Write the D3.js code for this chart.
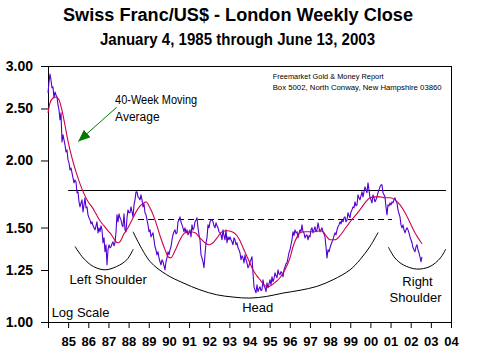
<!DOCTYPE html>
<html><head><meta charset="utf-8">
<script src="https://cdn.jsdelivr.net/npm/d3@7"></script>
<style>
html,body{margin:0;padding:0;background:#fff;}
svg{display:block;font-family:"Liberation Sans",Arial,sans-serif;}
</style></head>
<body>
<svg id="chart" width="477" height="360"></svg>
<script>
// ---------------- DATA ----------------
const titleText = "Swiss Franc/US$ - London Weekly Close";
const subtitleText = "January 4, 1985 through June 13, 2003";
const sourceLines = ["Freemarket Gold & Money Report", "Box 5002, North Conway, New Hampshire 03860"];

// CHF per US$, weekly close (sampled), first to last observation
const closeStart = 1985.0, closeEnd = 2003.56;
const closeValues = [
2.672,2.801,2.898,2.825,2.730,2.742,2.615,2.683,2.649,2.627,2.538,2.484,2.380,2.453,2.166,2.232,2.184,2.138,2.075,2.093,
2.005,1.979,1.921,1.937,1.896,1.856,1.817,1.840,1.825,1.741,1.748,1.675,1.639,1.667,1.689,1.604,1.653,1.704,1.632,1.639,
1.584,1.564,1.550,1.524,1.537,1.511,1.498,1.485,1.511,1.537,1.466,1.498,1.473,1.511,1.485,1.405,1.435,1.352,1.393,1.278,
1.363,1.393,1.375,1.381,1.399,1.411,1.387,1.405,1.473,1.584,1.537,1.591,1.564,1.550,1.517,1.505,1.591,1.485,1.473,1.564,
1.618,1.598,1.598,1.639,1.604,1.570,1.653,1.689,1.748,1.748,1.711,1.704,1.689,1.726,1.689,1.639,1.660,1.598,1.584,1.550,
1.517,1.473,1.485,1.441,1.454,1.466,1.423,1.381,1.363,1.334,1.352,1.317,1.295,1.278,1.306,1.295,1.273,1.251,1.295,1.317,
1.352,1.334,1.363,1.381,1.423,1.454,1.473,1.485,1.460,1.466,1.537,1.550,1.570,1.537,1.517,1.498,1.473,1.498,1.466,1.485,
1.454,1.466,1.485,1.441,1.517,1.485,1.498,1.537,1.550,1.564,1.498,1.454,1.423,1.334,1.317,1.295,1.262,1.334,1.405,1.435,
1.517,1.498,1.537,1.550,1.550,1.537,1.511,1.498,1.531,1.511,1.498,1.473,1.466,1.454,1.423,1.485,1.448,1.423,1.485,1.405,
1.441,1.423,1.441,1.423,1.411,1.393,1.435,1.423,1.393,1.405,1.375,1.363,1.346,1.306,1.329,1.317,1.289,1.334,1.306,1.289,
1.262,1.273,1.295,1.306,1.323,1.235,1.163,1.148,1.134,1.173,1.139,1.153,1.163,1.144,1.148,1.199,1.168,1.158,1.139,1.183,
1.158,1.178,1.199,1.173,1.214,1.189,1.204,1.235,1.219,1.209,1.251,1.230,1.225,1.241,1.235,1.214,1.251,1.267,1.284,1.289,
1.317,1.346,1.363,1.393,1.423,1.473,1.448,1.485,1.466,1.473,1.435,1.466,1.485,1.473,1.517,1.473,1.466,1.435,1.448,1.454,
1.423,1.448,1.441,1.485,1.498,1.466,1.485,1.505,1.473,1.485,1.531,1.498,1.473,1.485,1.498,1.473,1.460,1.441,1.381,1.317,
1.363,1.352,1.375,1.393,1.411,1.423,1.448,1.466,1.454,1.485,1.505,1.517,1.537,1.524,1.550,1.537,1.564,1.570,1.537,1.550,
1.598,1.577,1.564,1.604,1.618,1.639,1.632,1.675,1.646,1.653,1.726,1.704,1.689,1.718,1.748,1.711,1.748,1.786,1.763,1.741,
1.817,1.763,1.704,1.689,1.667,1.726,1.704,1.675,1.689,1.711,1.741,1.763,1.786,1.801,1.801,1.741,1.726,1.711,1.639,1.584,
1.653,1.646,1.667,1.653,1.675,1.667,1.689,1.704,1.682,1.667,1.618,1.591,1.570,1.517,1.498,1.517,1.485,1.466,1.485,1.498,
1.485,1.466,1.441,1.423,1.405,1.375,1.363,1.352,1.381,1.393,1.363,1.346,1.323,1.295,1.323
];

// 40-week moving average
const maDates = [1985.00,1985.10,1985.25,1985.40,1985.55,1985.69,1985.84,1985.99,1986.19,1986.39,1986.59,1986.79,1986.99,
1987.18,1987.38,1987.58,1987.78,1987.98,1988.18,1988.37,1988.47,1988.57,1988.77,1988.97,1989.17,1989.37,1989.57,1989.76,
1989.86,1990.06,1990.31,1990.56,1990.81,1990.96,1991.10,1991.30,1991.55,1991.80,1992.05,1992.30,1992.54,1992.79,1992.99,
1993.19,1993.39,1993.64,1993.88,1994.13,1994.38,1994.53,1994.68,1994.88,1995.02,1995.17,1995.37,1995.52,1995.72,1995.92,
1996.12,1996.32,1996.51,1996.76,1997.01,1997.16,1997.36,1997.51,1997.75,1998.00,1998.25,1998.50,1998.65,1998.80,1998.99,
1999.24,1999.49,1999.74,1999.99,2000.24,2000.48,2000.73,2000.98,2001.23,2001.48,2001.72,2001.97,2002.22,2002.47,2002.72,
2002.97,2003.21,2003.46,2003.56];
const maValues = [2.453,2.560,2.615,2.627,2.593,2.484,2.329,2.175,2.022,1.904,1.809,1.733,1.675,
1.639,1.591,1.544,1.511,1.479,1.448,1.411,1.405,1.411,1.460,1.498,1.550,1.604,1.646,1.667,
1.675,1.632,1.550,1.448,1.363,1.323,1.317,1.357,1.423,1.466,1.473,1.466,1.435,1.405,1.393,
1.405,1.435,1.473,1.479,1.473,1.448,1.417,1.375,1.323,1.289,1.251,1.219,1.199,1.173,1.163,
1.173,1.189,1.209,1.251,1.317,1.381,1.441,1.466,1.473,1.473,1.473,1.479,1.473,1.448,1.423,
1.423,1.448,1.492,1.537,1.577,1.618,1.667,1.704,1.711,1.711,1.704,1.704,1.689,1.653,1.598,
1.531,1.466,1.417,1.399];

// y axis ticks (log scale) and x axis years
const yTicks = [1.00, 1.25, 1.50, 2.00, 2.50, 3.00];
const xTickYears = d3.range(1985, 2006);

// reference levels
const resistanceLevel = 1.76, resistanceFrom = 1986.0, resistanceTo = 2004.75;
const necklineLevel = 1.555, necklineFrom = 1989.47, necklineTo = 2002.07;

// head-and-shoulders arcs (year, value)
const leftShoulderArc = [[1986.34,1.383],[1986.75,1.316],[1987.25,1.269],[1987.83,1.251],[1988.41,1.269],[1988.91,1.306],[1989.23,1.367]];
const headArc = [[1989.22,1.473],[1990.06,1.297],[1990.89,1.225],[1991.70,1.183],[1992.54,1.148],[1993.37,1.124],[1994.18,1.113],
 [1995.02,1.108],[1995.85,1.116],[1996.66,1.132],[1997.51,1.146],[1998.34,1.165],[1999.15,1.199],[1999.99,1.251],[2000.48,1.306],
 [2000.98,1.383],[2001.38,1.468]];
const rightShoulderArc = [[2001.89,1.379],[2002.22,1.316],[2002.63,1.278],[2003.30,1.255],[2003.96,1.269],[2004.47,1.316],[2004.74,1.367]];

// annotations: [text, year, value, anchor]
const annotations = [
  ["Left Shoulder", 1987.99, 1.178, "middle"],
  ["Head", 1995.41, 1.044, "middle"],
  ["Right", 2003.34, 1.168, "middle"],
  ["Shoulder", 2003.24, 1.088, "middle"],
  ["Log Scale", 1985.18, 1.020, "start"]
];
const maLabel = ["40-Week Moving", "Average"];
const maLabelPos = [1988.33, 2.549, 2.365];
const arrowFrom = [1988.41, 2.513], arrowTo = [1986.50, 2.170];
const sourcePos = [1996.15, 2.837, 2.712];

// ---------------- DRAW ----------------
const svg = d3.select("#chart");
svg.append("rect").attr("width", 477).attr("height", 360).attr("fill", "#fff");

const x = d3.scaleLinear().domain([1985, 2005]).range([48, 451]);
const y = d3.scaleLog().domain([1, 3]).range([322, 66]);

// titles
svg.append("text").attr("x", 238).attr("y", 20.5).attr("text-anchor", "middle")
  .attr("font-size", 18).attr("font-weight", "bold").attr("textLength", 350).attr("lengthAdjust", "spacingAndGlyphs")
  .text(titleText);
svg.append("text").attr("x", 237.5).attr("y", 45).attr("text-anchor", "middle")
  .attr("font-size", 16).attr("font-weight", "bold").attr("textLength", 275).attr("lengthAdjust", "spacingAndGlyphs")
  .text(subtitleText);

// frame
svg.append("rect")
  .attr("x", x(1985) + 0.5).attr("y", y(3) + 0.5)
  .attr("width", x(2005) - x(1985)).attr("height", y(1) - y(3))
  .attr("fill", "none").attr("stroke", "#000").attr("stroke-width", 1);

// axes
const yAxis = svg.append("g").attr("transform", `translate(${x(1985)},0)`)
  .call(d3.axisLeft(y).tickValues(yTicks).tickFormat(d3.format(".2f")).tickSize(7).tickSizeOuter(0).tickPadding(8));
yAxis.selectAll("text").attr("font-size", 14).attr("font-weight", "bold").attr("font-family", "Liberation Sans, Arial, sans-serif").attr("fill", "#000");
yAxis.selectAll("line,path").attr("stroke", "#000");

const xAxis = svg.append("g").attr("transform", `translate(0,${y(1)})`)
  .call(d3.axisBottom(x).tickValues(xTickYears).tickSize(6).tickSizeOuter(0).tickPadding(9)
    .tickFormat(d => d === 1985 ? "" : String(d - 1).slice(2)));
xAxis.selectAll("text").attr("font-size", 13).attr("font-weight", "bold").attr("font-family", "Liberation Sans, Arial, sans-serif").attr("fill", "#000");
xAxis.selectAll("line,path").attr("stroke", "#000");

// reference lines
svg.append("line")
  .attr("x1", x(resistanceFrom)).attr("x2", x(resistanceTo))
  .attr("y1", Math.round(y(resistanceLevel)) + 0.5).attr("y2", Math.round(y(resistanceLevel)) + 0.5)
  .attr("stroke", "#000").attr("stroke-width", 1);
svg.append("line")
  .attr("x1", x(necklineFrom)).attr("x2", x(necklineTo))
  .attr("y1", Math.round(y(necklineLevel)) + 0.5).attr("y2", Math.round(y(necklineLevel)) + 0.5)
  .attr("stroke", "#000").attr("stroke-width", 1).attr("stroke-dasharray", "6,4");

// series
const n = closeValues.length;
const closeData = closeValues.map((v, i) => [closeStart + i * (closeEnd - closeStart) / (n - 1), v]);
const line = d3.line().x(d => x(d[0])).y(d => y(d[1]));
svg.append("path").datum(closeData).attr("d", line)
  .attr("fill", "none").attr("stroke", "#5000d0").attr("stroke-width", 1.1).attr("stroke-linejoin", "round");

const maData = maDates.map((d, i) => [d, maValues[i]]);
svg.append("path").datum(maData).attr("d", line.curve(d3.curveMonotoneX))
  .attr("fill", "none").attr("stroke", "#d0004a").attr("stroke-width", 1.1);

// arcs
const arcLine = d3.line().x(d => x(d[0])).y(d => y(d[1])).curve(d3.curveCatmullRom);
[leftShoulderArc, headArc, rightShoulderArc].forEach(a => {
  svg.append("path").datum(a).attr("d", arcLine).attr("fill", "none").attr("stroke", "#000").attr("stroke-width", 1);
});

// annotations
annotations.forEach(([t, yr, v, anchor]) => {
  svg.append("text").attr("x", x(yr)).attr("y", y(v)).attr("text-anchor", anchor)
    .attr("font-size", 13).attr("fill", "#000").text(t);
});

svg.append("text").attr("x", x(maLabelPos[0])).attr("y", y(maLabelPos[1]))
  .attr("font-size", 12).attr("textLength", 82).attr("lengthAdjust", "spacingAndGlyphs").text(maLabel[0]);
svg.append("text").attr("x", x(maLabelPos[0])).attr("y", y(maLabelPos[2]))
  .attr("font-size", 12).text(maLabel[1]);

// arrow
const defs = svg.append("defs");
defs.append("marker").attr("id", "ah").attr("viewBox", "0 0 12 10").attr("refX", 12).attr("refY", 5)
  .attr("markerWidth", 12).attr("markerHeight", 10).attr("markerUnits", "userSpaceOnUse").attr("orient", "auto")
  .append("path").attr("d", "M0,0 L12,5 L0,10 Z").attr("fill", "#007a00");
svg.append("line")
  .attr("x1", x(arrowFrom[0])).attr("y1", y(arrowFrom[1]))
  .attr("x2", x(arrowTo[0])).attr("y2", y(arrowTo[1]))
  .attr("stroke", "#007a00").attr("stroke-width", 1).attr("marker-end", "url(#ah)");

// source text
svg.append("text").attr("x", x(sourcePos[0])).attr("y", y(sourcePos[1]))
  .attr("font-size", 8).attr("textLength", 111).attr("lengthAdjust", "spacingAndGlyphs").text(sourceLines[0]);
svg.append("text").attr("x", x(sourcePos[0])).attr("y", y(sourcePos[2]))
  .attr("font-size", 8).attr("textLength", 169).attr("lengthAdjust", "spacingAndGlyphs").text(sourceLines[1]);
</script>
</body></html>
